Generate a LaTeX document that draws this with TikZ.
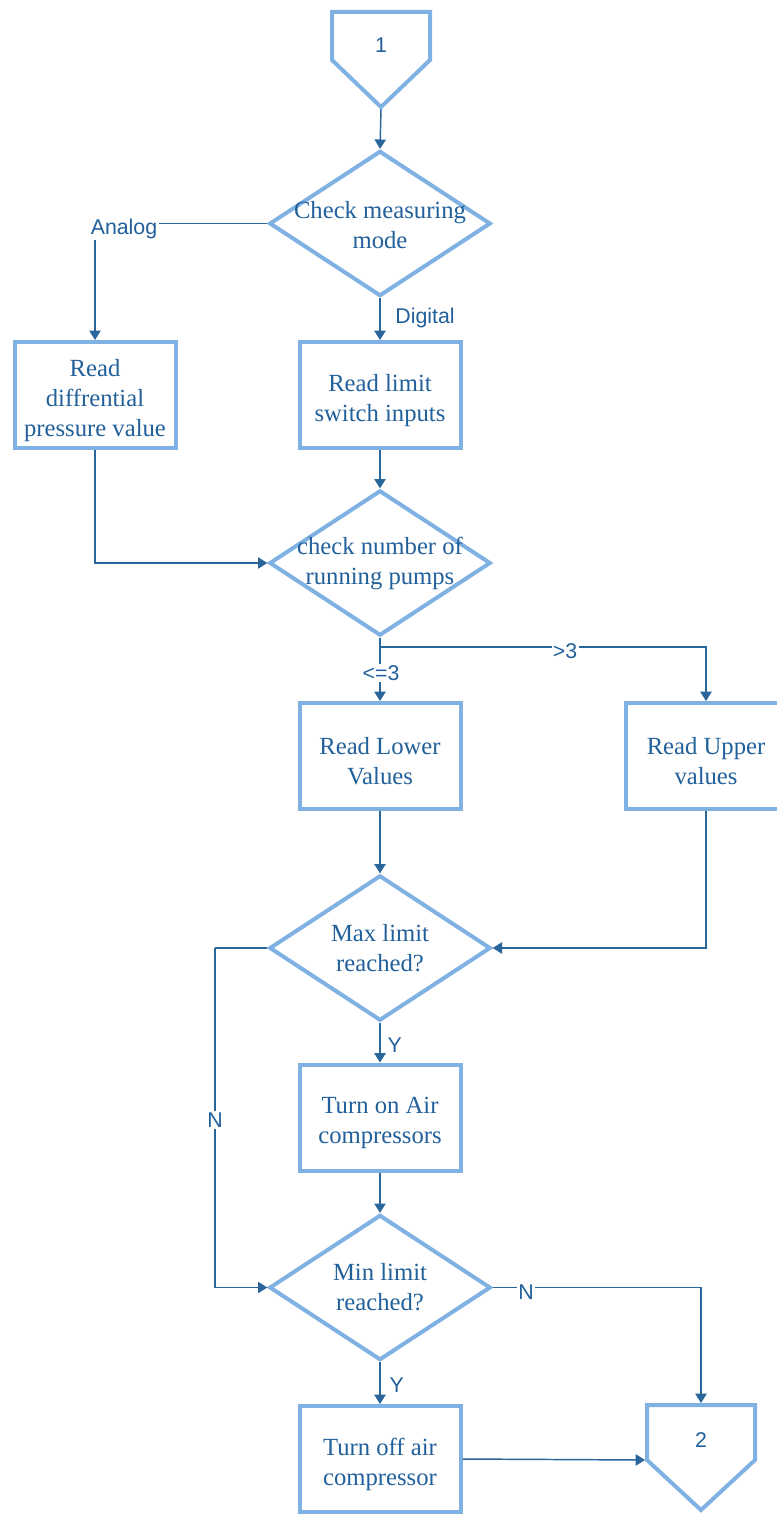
\documentclass[tikz,border=0pt]{standalone}
\usepackage{fontspec}
\setmainfont{Liberation Serif}
\newfontfamily\lblfont{Liberation Sans}
\usetikzlibrary{shapes.geometric,arrows.meta}
\definecolor{bordc}{HTML}{7FB2E3}
\definecolor{linec}{HTML}{2A6699}
\definecolor{textc}{HTML}{21609A}
\tikzset{
  stepbox/.style={draw=bordc, line width=3pt, rectangle, minimum width=120.75pt,
    minimum height=79.5pt, inner sep=0pt},
  decide/.style={draw=bordc, line width=3pt, diamond, minimum width=166pt,
    minimum height=109pt, inner sep=0pt},
  dectext/.style={align=center, text=textc, font=\fontsize{18.5pt}{22.5pt}\selectfont},
  boxtext/.style={dectext, yshift=-4pt},
  pent/.style={draw=bordc, line width=3pt, miter limit=10},
  conn/.style={draw=linec, line width=1.1pt, -{Triangle[width=8.5pt,length=7pt]}},
  plain/.style={draw=linec, line width=1.1pt},
  lbl/.style={text=textc, font=\lblfont\fontsize{16pt}{19pt}\selectfont, inner sep=1pt},
  lblw/.style={lbl, fill=white}
}
\begin{document}
\begin{tikzpicture}[x=0.75pt, y=-0.75pt]
\useasboundingbox (0,0) rectangle (777,1516);

% off-page connector 1
\draw[pent] (332,12) -- (430,12) -- (430,60) -- (381,107) -- (332,60) -- cycle;
\node[lbl] (c1) at (381,45) {1};
\coordinate (c1tip) at (381,109);

% decisions and process boxes
\node[decide, label={[dectext,yshift=-1.5pt]center:Check measuring\\mode}] (d1) at (380,223.5) {};
\node[stepbox, label={[boxtext]center:Read\\diffrential\\pressure value}] (b1) at (95,395) {};
\node[stepbox, label={[boxtext]center:Read limit\\switch inputs}] (b2) at (380,395) {};
\node[decide, label={[dectext]center:check number of\\running pumps}] (d2) at (380,563) {};
\node[stepbox, label={[boxtext]center:Read Lower\\Values}] (b3) at (380,756) {};
\node[stepbox, label={[boxtext]center:Read Upper\\values}] (b4) at (706,756) {};
\node[decide, label={[dectext]center:Max limit\\reached?}] (d3) at (380,948) {};
\node[stepbox, label={[boxtext]center:Turn on Air\\compressors}] (b5) at (380,1117.5) {};
\node[decide, label={[dectext]center:Min limit\\reached?}] (d4) at (380,1287.5) {};
\node[stepbox, label={[boxtext]center:Turn off air\\compressor}] (b6) at (380,1459) {};

% off-page connector 2
\draw[pent] (647,1405) -- (755,1405) -- (755,1460) -- (701,1510) -- (647,1460) -- cycle;
\node[lbl] (c2) at (701,1440) {2};
\coordinate (c2top) at (701,1403);
\coordinate (c2left) at (645,1460);

% connectors
\draw[conn] (c1tip) -- (d1.north);
\draw[conn] (d1.west) -| (b1.north);
\node[lblw] (la) at (124,229) {Analog};
\draw[conn] (d1.south) -- (b2.north);
\node[lbl] (ld) at (425,318) {Digital};
\draw[conn] (b2.south) -- (d2.north);
\draw[conn] (b1.south) |- (d2.west);
\coordinate (split) at (380,647);
\draw[plain] (d2.south) -- (split);
\draw[conn] (split) -| (b4.north);
\node[lblw] (lg) at (565,651) {>3};
\draw[conn] (split) -- (b3.north);
\node[lblw] (lle) at (381,673) {<=3};
\draw[conn] (b3.south) -- (d3.north);
\draw[conn] (b4.south) |- (d3.east);
\coordinate (nleft) at (215,948);
\draw[plain] (d3.west) -- (nleft);
\draw[conn] (nleft) |- (d4.west);
\node[lblw] (ln1) at (215,1120) {N};
\draw[conn] (d3.south) -- (b5.north);
\node[lbl, anchor=west] (ly1) at (386,1045) {Y};
\draw[conn] (b5.south) -- (d4.north);
\draw[conn] (d4.east) -| (c2top);
\node[lblw] (ln2) at (526,1292) {N};
\draw[conn] (d4.south) -- (b6.north);
\node[lbl, anchor=west] (ly2) at (388,1385) {Y};
\draw[conn] (b6.east) -- (c2left);
\end{tikzpicture}
\end{document}
